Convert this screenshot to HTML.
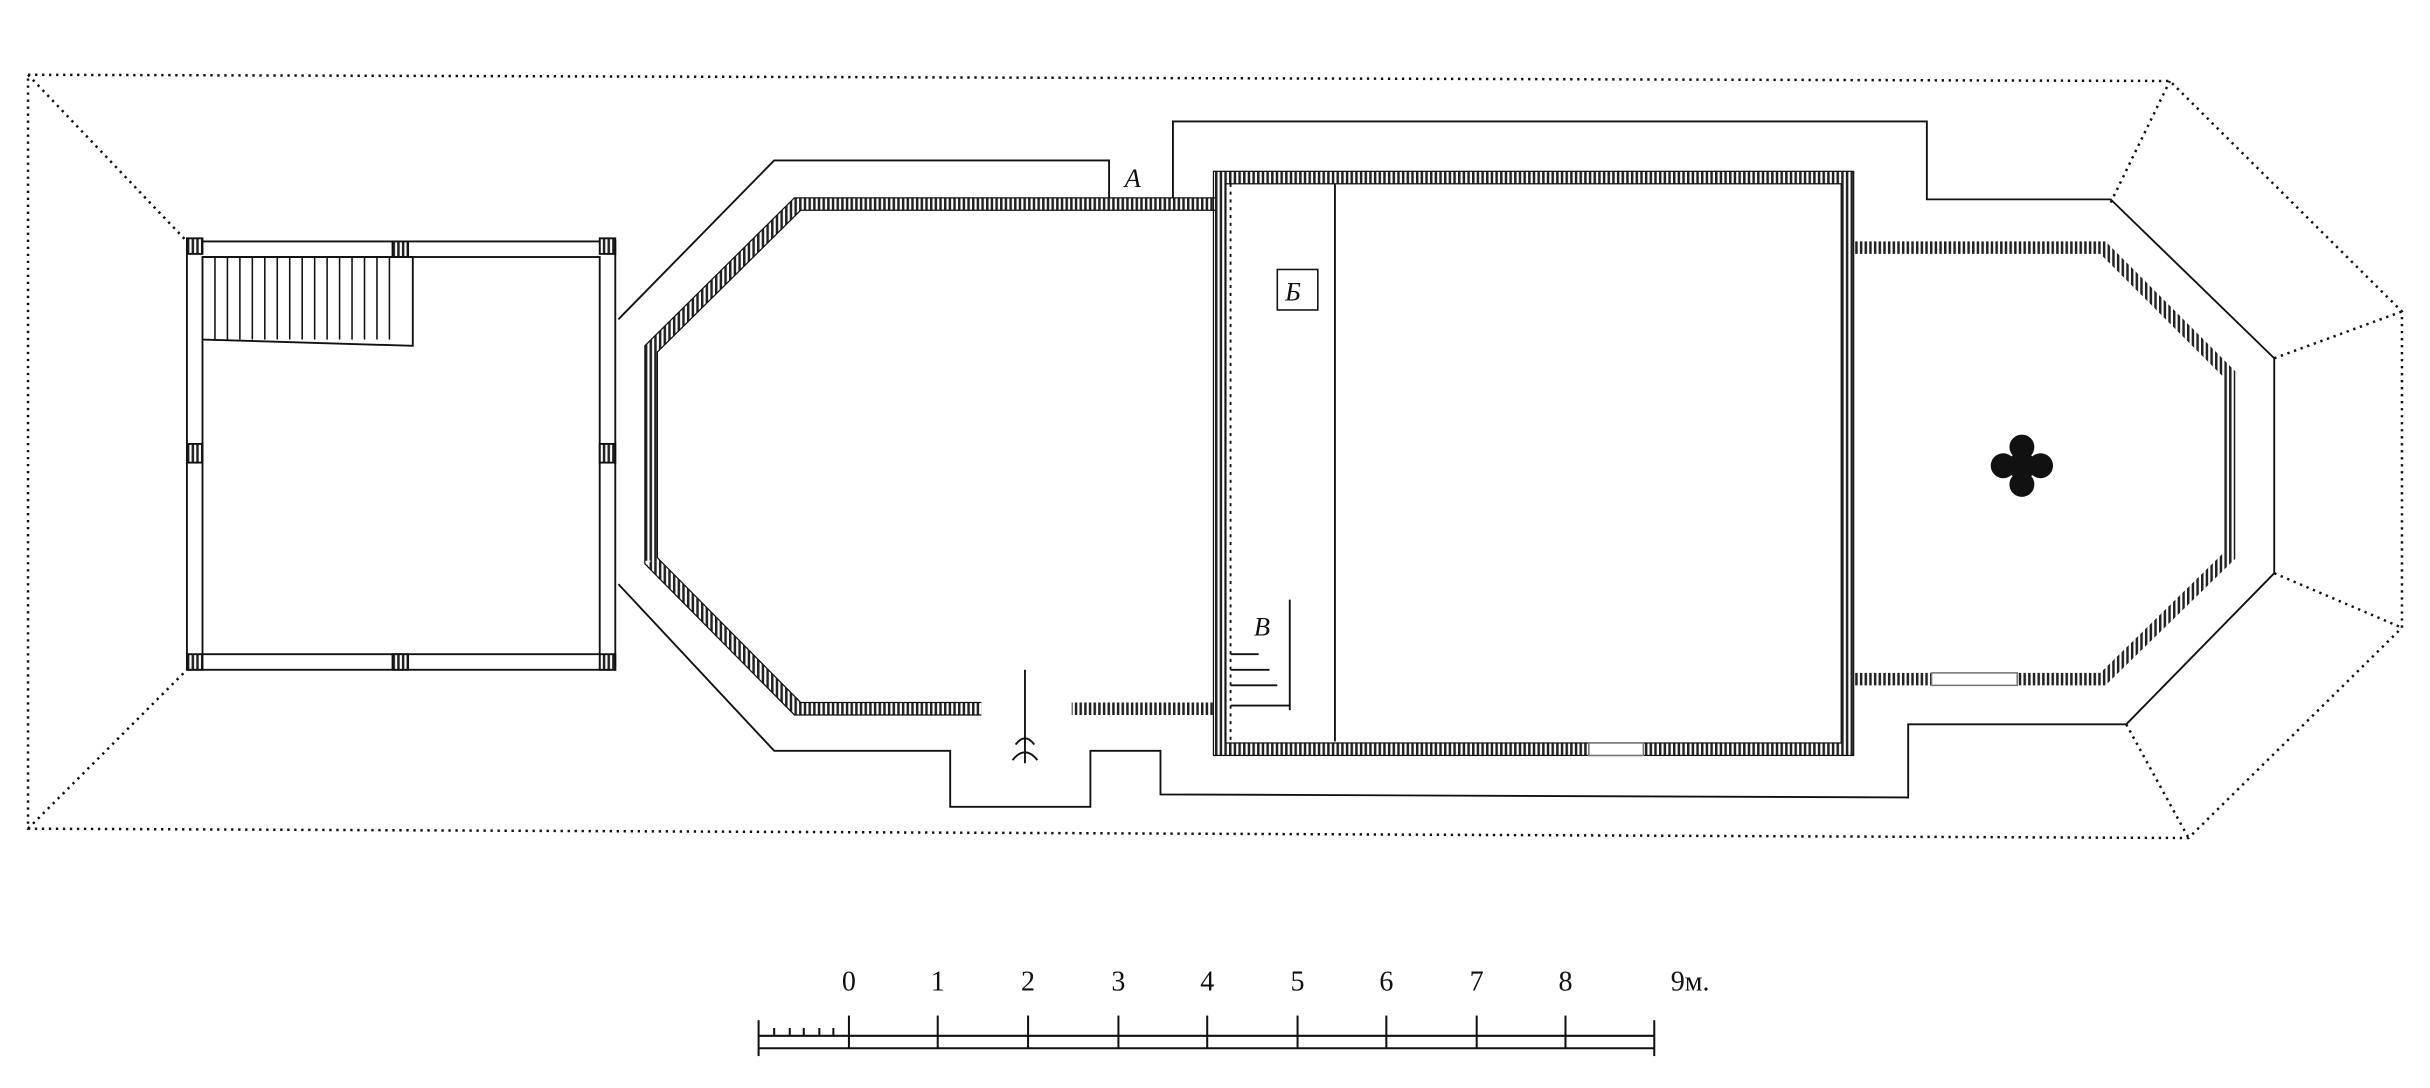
<!DOCTYPE html>
<html><head><meta charset="utf-8"><style>
html,body{margin:0;padding:0;background:#fff;}
svg{display:block;}
text{font-family:"Liberation Serif",serif;fill:#111;}
</style></head><body>
<svg width="2430" height="1088" viewBox="0 0 1560 698.5" preserveAspectRatio="none" xmlns="http://www.w3.org/2000/svg">
<defs>
<pattern id="h" width="3" height="3" patternUnits="userSpaceOnUse"><rect width="3" height="3" fill="#fff"/><rect width="1.6" height="3" fill="#222"/></pattern>
</defs>
<g fill="none" stroke="#111" stroke-width="1.6" stroke-dasharray="1.5 3">
<polyline points="18,48 1393,52 1542,200 1542,403 1405,538 18,532 18,48"/>
<line x1="18" y1="48" x2="120" y2="155"/>
<line x1="18" y1="532" x2="120" y2="430"/>
<line x1="1355" y1="130" x2="1393" y2="52"/>
<line x1="1460" y1="230" x2="1542" y2="200"/>
<line x1="1460" y1="368" x2="1542" y2="403"/>
<line x1="1365" y1="465" x2="1405" y2="538"/>
</g>
<g fill="none" stroke="#111" stroke-width="1.2">
<!-- porch -->
<rect x="120" y="155" width="275" height="275"/>
<rect x="130" y="165" width="255" height="255"/>
<rect x="120" y="153" width="10" height="10" fill="url(#h)"/>
<rect x="385" y="153" width="10" height="10" fill="url(#h)"/>
<rect x="120" y="420" width="10" height="10" fill="url(#h)"/>
<rect x="385" y="420" width="10" height="10" fill="url(#h)"/>
<rect x="252" y="155" width="10" height="10" fill="url(#h)"/>
<rect x="252" y="420" width="10" height="10" fill="url(#h)"/>
<rect x="120" y="285" width="10" height="12" fill="url(#h)"/>
<rect x="385" y="285" width="10" height="12" fill="url(#h)"/>
<polyline points="130,165 265,165 265,222 130,218"/>
<!-- outer thin lines -->
<polyline points="397,205 497,103 712,103 712,128"/>
<polyline points="397,375 497,482 610,482 610,518 700,518 700,482 745,482 745,510 1225,512 1225,465 1365,465 1460,368 1460,230 1355,128 1237,128 1237,78 753,78 753,128"/>
<!-- dividers -->
<line x1="857" y1="118" x2="857" y2="476"/>
<line x1="790" y1="118" x2="790" y2="476" stroke-dasharray="2 3"/>
<line x1="1183" y1="165" x2="1183" y2="430" stroke-dasharray="2 3"/>
</g>
<!-- stairs -->
<g stroke="#111" stroke-width="1">
<line x1="138" y1="165" x2="138" y2="218"/><line x1="146" y1="165" x2="146" y2="218"/><line x1="154" y1="165" x2="154" y2="218"/><line x1="162" y1="165" x2="162" y2="218"/><line x1="170" y1="165" x2="170" y2="218"/><line x1="178" y1="165" x2="178" y2="218"/><line x1="186" y1="165" x2="186" y2="218"/><line x1="194" y1="165" x2="194" y2="218"/><line x1="202" y1="165" x2="202" y2="218"/><line x1="210" y1="165" x2="210" y2="218"/><line x1="218" y1="165" x2="218" y2="218"/><line x1="226" y1="165" x2="226" y2="218"/><line x1="234" y1="165" x2="234" y2="218"/><line x1="242" y1="165" x2="242" y2="218"/><line x1="250" y1="165" x2="250" y2="218"/>
</g>
<!-- hatched walls -->
<g fill="none" stroke="url(#h)" stroke-width="8">
<polyline points="780,131 512,131 418,224 418,360"/>
<polyline points="418,360 512,455 630,455"/>
<polyline points="688,455 782,455"/>
<rect x="783" y="114" width="403" height="367"/>
<polyline points="1186,159 1350,159 1431,240 1431,357 1350,436 1186,436"/>
</g>
<g fill="none" stroke="#111" stroke-width="0.8">
<polyline points="780,127 510,127 414,222 414,362 510,459 630,459"/>
<polyline points="780,135 514,135 422,226 422,358 514,451 630,451"/>
<rect x="779" y="110" width="411" height="375"/>
<rect x="787" y="118" width="395" height="359"/>
</g>
<rect x="1240" y="432" width="55" height="8" fill="#fff" stroke="#777"/>
<rect x="1020" y="477" width="35" height="8" fill="#fff" stroke="#777"/>
<rect x="820" y="173" width="26" height="26" fill="#fff" stroke="#111"/>
<text x="825" y="193" font-size="17" font-style="italic">Б</text>
<text x="722" y="120" font-size="17" font-style="italic">A</text>
<text x="805" y="408" font-size="17" font-style="italic">B</text>
<g stroke="#111" stroke-width="1.2" fill="none">
<line x1="828" y1="385" x2="828" y2="456"/><line x1="790" y1="453" x2="828" y2="453"/>
<line x1="790" y1="420" x2="808" y2="420"/><line x1="790" y1="430" x2="815" y2="430"/><line x1="790" y1="440" x2="820" y2="440"/>
<line x1="658" y1="430" x2="658" y2="490"/>
<path d="M652 478 Q658 470 664 478 M650 488 Q658 478 666 488"/>
</g>
<!-- cross -->
<g fill="#111"><circle cx="1298" cy="299" r="9"/><circle cx="1298" cy="287" r="8"/><circle cx="1298" cy="311" r="8"/><circle cx="1286" cy="299" r="8"/><circle cx="1310" cy="299" r="8"/></g>
<!-- scale -->
<g stroke="#111" stroke-width="1.3" fill="none">
<line x1="487" y1="665" x2="1062" y2="665"/><line x1="487" y1="673" x2="1062" y2="673"/>
<line x1="487" y1="655" x2="487" y2="678"/><line x1="1062" y1="655" x2="1062" y2="678"/>
<line x1="545" y1="652" x2="545" y2="673"/><line x1="602" y1="652" x2="602" y2="673"/><line x1="660" y1="652" x2="660" y2="673"/><line x1="718" y1="652" x2="718" y2="673"/><line x1="775" y1="652" x2="775" y2="673"/><line x1="833" y1="652" x2="833" y2="673"/><line x1="890" y1="652" x2="890" y2="673"/><line x1="948" y1="652" x2="948" y2="673"/><line x1="1005" y1="652" x2="1005" y2="673"/>
<line x1="497" y1="660" x2="497" y2="665"/><line x1="507" y1="660" x2="507" y2="665"/><line x1="516" y1="660" x2="516" y2="665"/><line x1="526" y1="660" x2="526" y2="665"/><line x1="535" y1="660" x2="535" y2="665"/>
</g>
<g font-size="18" text-anchor="middle">
<text x="545" y="636">0</text><text x="602" y="636">1</text><text x="660" y="636">2</text><text x="718" y="636">3</text><text x="775" y="636">4</text><text x="833" y="636">5</text><text x="890" y="636">6</text><text x="948" y="636">7</text><text x="1005" y="636" fill="#999">8</text><text x="1085" y="636">9м.</text>
</g>
</svg>
</body></html>
